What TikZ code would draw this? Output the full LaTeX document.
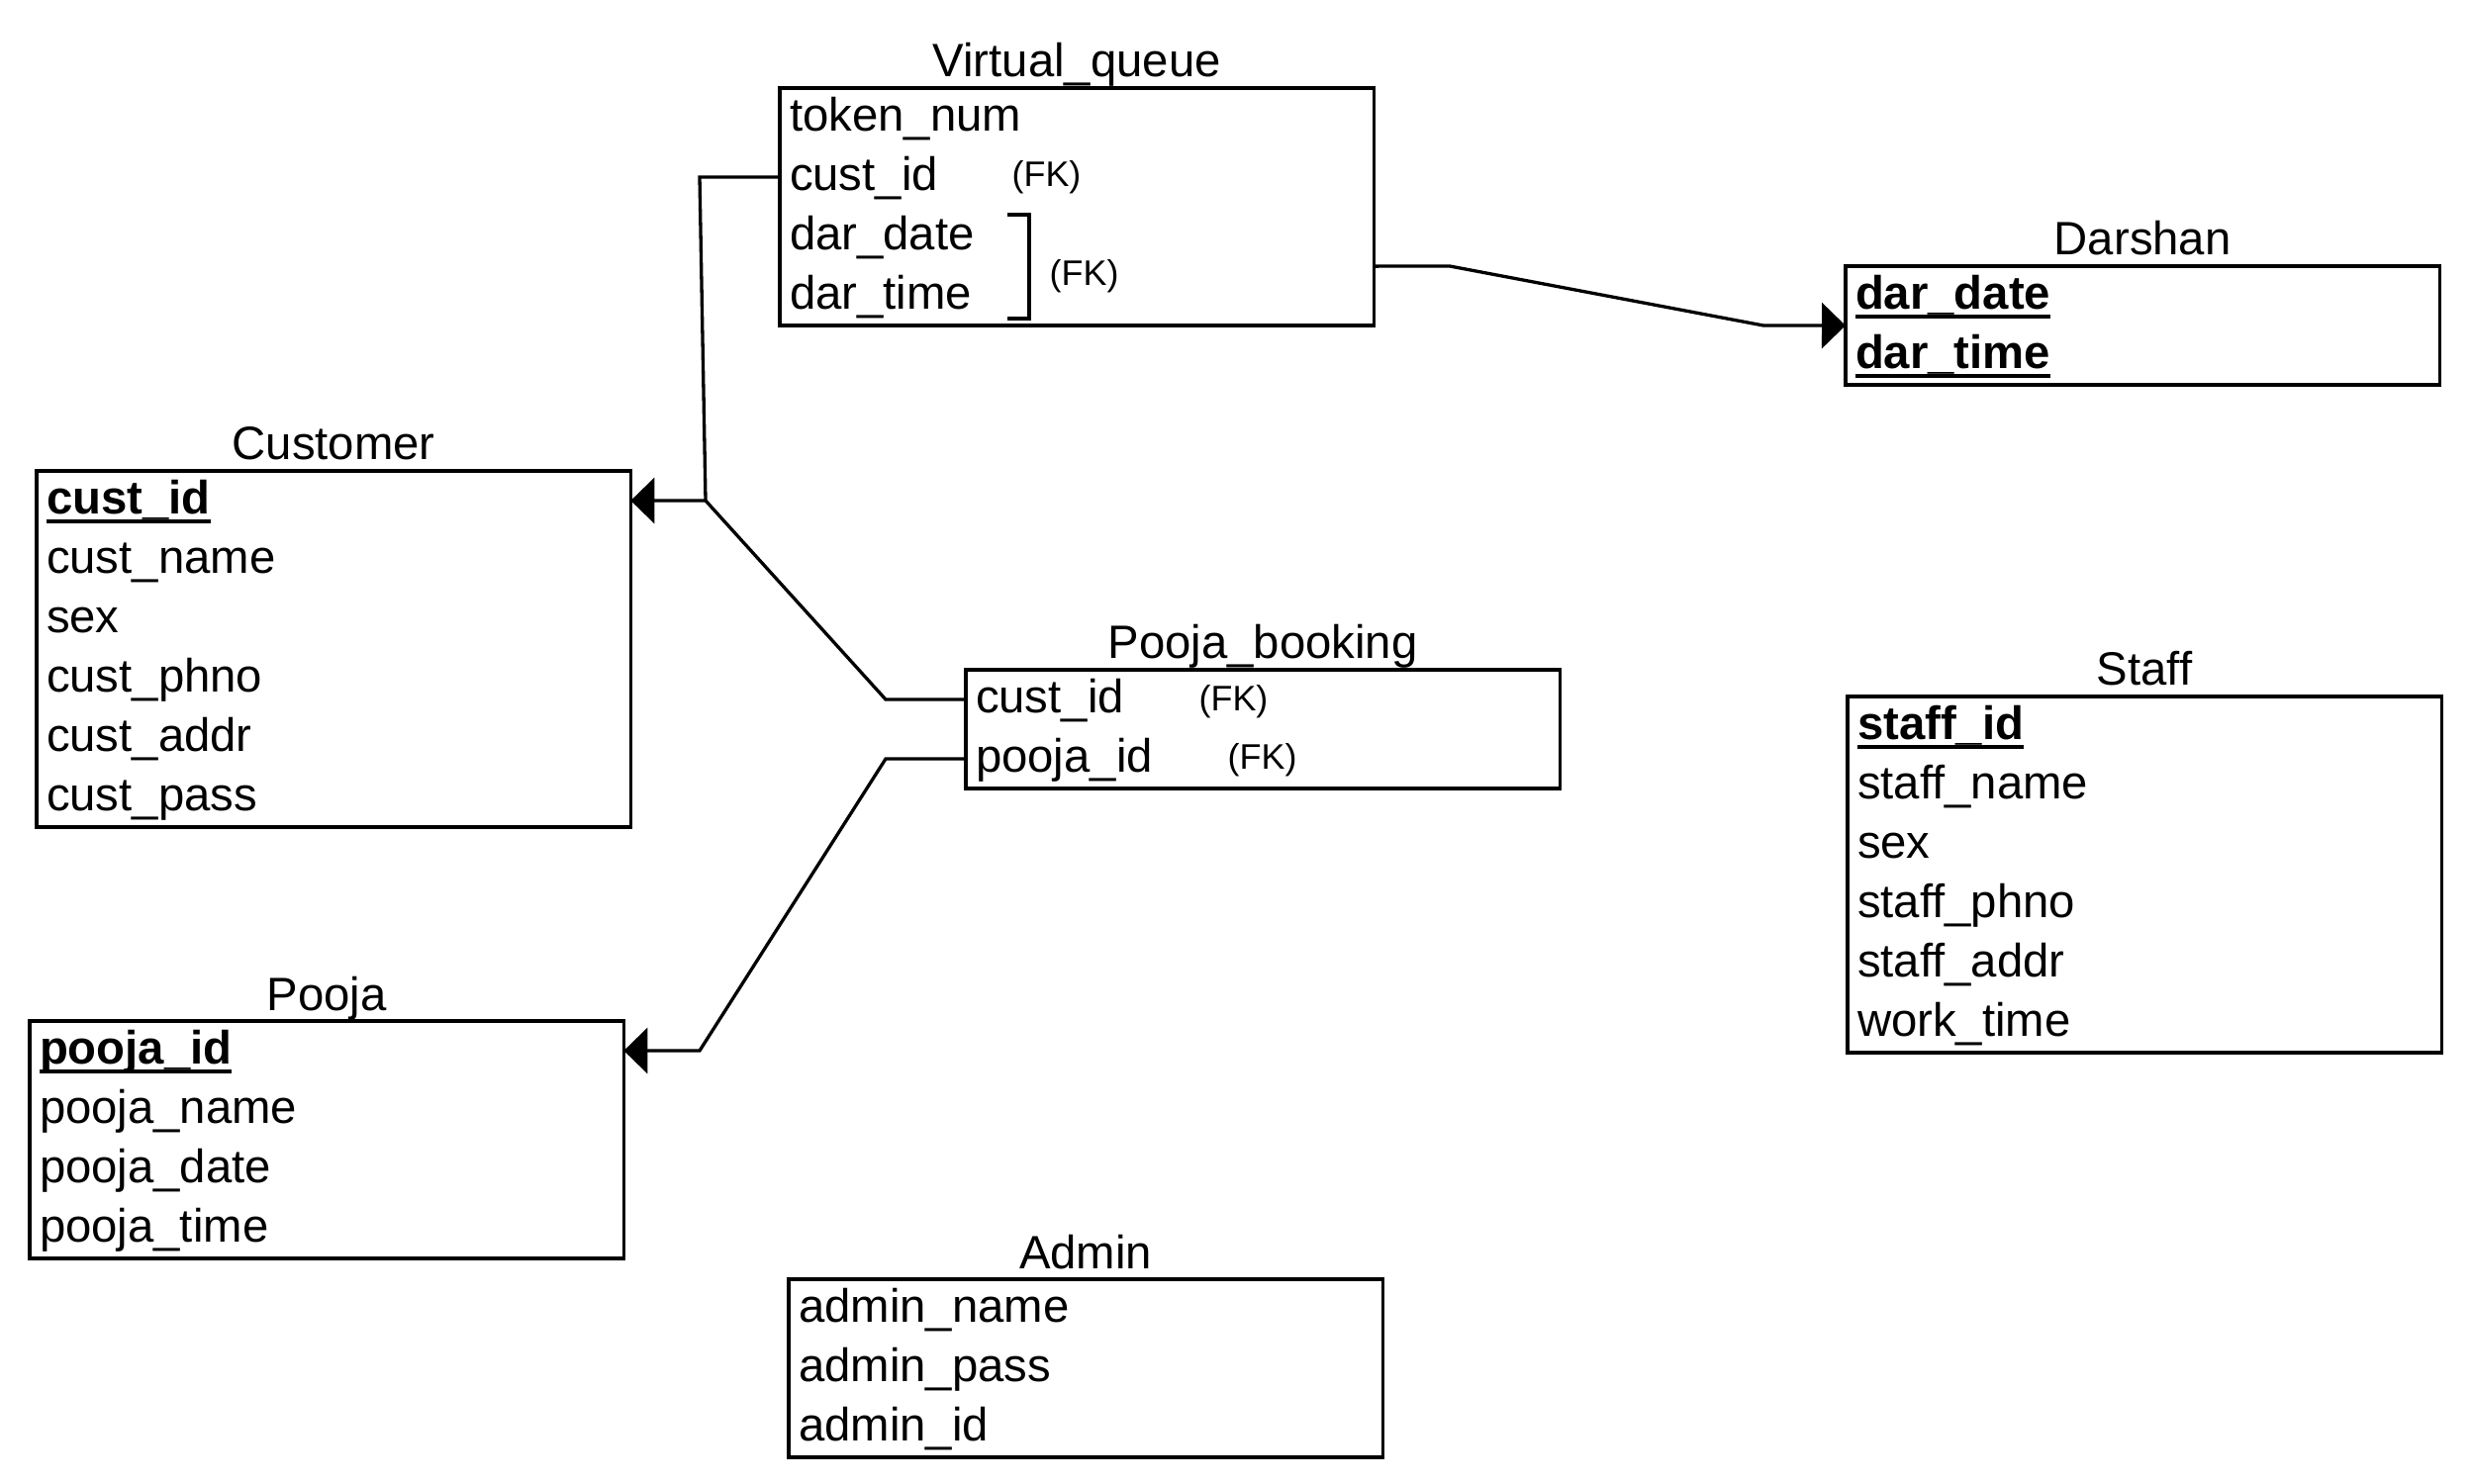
\documentclass[tikz,border=0pt]{standalone}
\usepackage{fontspec}
\setmainfont{Liberation Sans}
\usetikzlibrary{arrows.meta}

% bold, thickly underlined primary-key text
\newcommand\pkfield[1]{\leavevmode\setbox0\hbox{\bfseries #1}%
  \rlap{\rule[-0.095cm]{\wd0}{0.035cm}}\box0}

\begin{document}
\begin{tikzpicture}[x=0.01cm,y=-0.01cm,
  tbl/.style={draw, line width=0.035cm, minimum width=6cm, inner sep=0pt, outer sep=0pt, anchor=north west},
  row/.style={minimum width=6cm, minimum height=0.6cm, text width=5.8cm, inner xsep=0.1cm,
    inner ysep=0pt, outer sep=0pt, align=left, text height=0.36cm, text depth=0.10cm,
    font=\fontsize{13.45pt}{16pt}\selectfont, anchor=north west},
  ttl/.style={anchor=base, yshift=0.11cm, inner sep=0pt, font=\fontsize{13.45pt}{16pt}\selectfont},
  fk/.style={anchor=base west, inner sep=0pt, font=\fontsize{10.2pt}{12pt}\selectfont},
  link/.style={line width=0.033cm},
  ref/.style={link, -{Triangle[length=0.24cm, width=0.46cm]}}]

\useasboundingbox (0,0) rectangle (2496,1500);

% Virtual_queue
\node[tbl, minimum height=2.4cm] (vq) at (788,89) {};
\node[ttl] (vqt) at (vq.north) {Virtual\_queue};
\node[row] (vq1) at (vq.north west) {token\_num};
\node[row] (vq2) at (vq1.south west) {cust\_id};
\node[row] (vq3) at (vq2.south west) {dar\_date};
\node[row] (vq4) at (vq3.south west) {dar\_time};
\node[fk] (vqfk1) at (1022,189) {(FK)};
\node[fk] (vqfk2) at (1060,289) {(FK)};
\draw[line width=0.04cm] (1018,217) -- (1040,217) -- (1040,322) -- (1018,322);

% Darshan
\node[tbl, minimum height=1.2cm] (dr) at (1865,269) {};
\node[ttl] (drt) at (dr.north) {Darshan};
\node[row] (dr1) at (dr.north west) {\pkfield{dar\_date}};
\node[row] (dr2) at (dr1.south west) {\pkfield{dar\_time}};

% Customer
\node[tbl, minimum height=3.6cm] (cu) at (37,476) {};
\node[ttl] (cut) at (cu.north) {Customer};
\node[row] (cu1) at (cu.north west) {\pkfield{cust\_id}};
\node[row] (cu2) at (cu1.south west) {cust\_name};
\node[row] (cu3) at (cu2.south west) {sex};
\node[row] (cu4) at (cu3.south west) {cust\_phno};
\node[row] (cu5) at (cu4.south west) {cust\_addr};
\node[row] (cu6) at (cu5.south west) {cust\_pass};

% Pooja_booking
\node[tbl, minimum height=1.2cm] (pb) at (976,677) {};
\node[ttl] (pbt) at (pb.north) {Pooja\_booking};
\node[row] (pb1) at (pb.north west) {cust\_id};
\node[row] (pb2) at (pb1.south west) {pooja\_id};
\node[fk] (pbfk1) at (1211,718) {(FK)};
\node[fk] (pbfk2) at (1240,777) {(FK)};

% Staff
\node[tbl, minimum height=3.6cm] (st) at (1867,704) {};
\node[ttl] (stt) at (st.north) {Staff};
\node[row] (st1) at (st.north west) {\pkfield{staff\_id}};
\node[row] (st2) at (st1.south west) {staff\_name};
\node[row] (st3) at (st2.south west) {sex};
\node[row] (st4) at (st3.south west) {staff\_phno};
\node[row] (st5) at (st4.south west) {staff\_addr};
\node[row] (st6) at (st5.south west) {work\_time};

% Pooja
\node[tbl, minimum height=2.4cm] (po) at (30,1032) {};
\node[ttl] (pot) at (po.north) {Pooja};
\node[row] (po1) at (po.north west) {\pkfield{pooja\_id}};
\node[row] (po2) at (po1.south west) {pooja\_name};
\node[row] (po3) at (po2.south west) {pooja\_date};
\node[row] (po4) at (po3.south west) {pooja\_time};

% Admin
\node[tbl, minimum height=1.8cm] (ad) at (797,1293) {};
\node[ttl] (adt) at (ad.north) {Admin};
\node[row] (ad1) at (ad.north west) {admin\_name};
\node[row] (ad2) at (ad1.south west) {admin\_pass};
\node[row] (ad3) at (ad2.south west) {admin\_id};

% bend points of the connectors
\coordinate (bendA) at (707,179);
\coordinate (joinA) at (713,506);
\coordinate (bendB) at (895,707);
\coordinate (bendC) at (895,767);
\coordinate (bendD) at (707,1062);
\coordinate (bendE) at (1465,269);
\coordinate (bendF) at (1782,329);

% foreign keys
\draw[ref] (vq2.west) -- (bendA) -- (joinA) -- (cu1.east);
\draw[link] (pb1.west) -- (bendB) -- (joinA);
\draw[ref] (pb2.west) -- (bendC) -- (bendD) -- (po1.east);
\draw[ref] (vq3.south east) -- (bendE) -- (bendF) -- (dr1.south west);

\end{tikzpicture}
\end{document}
